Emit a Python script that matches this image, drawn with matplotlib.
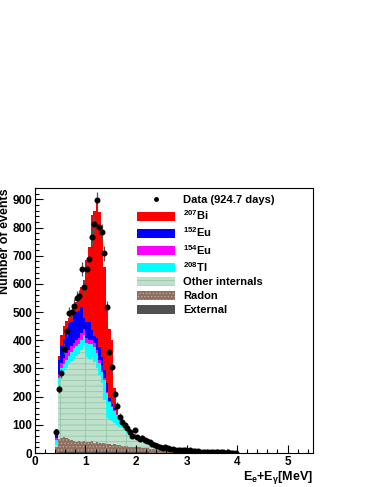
import numpy as np
import matplotlib.pyplot as plt
from matplotlib.patches import Patch
from matplotlib.lines import Line2D
from matplotlib.ticker import MultipleLocator

plt.rcParams['font.family'] = 'Liberation Sans'
plt.rcParams['font.weight'] = 'bold'
plt.rcParams['axes.labelweight'] = 'bold'
plt.rcParams['mathtext.fontset'] = 'custom'
plt.rcParams['mathtext.bf'] = 'Liberation Sans:bold'
plt.rcParams['mathtext.rm'] = 'Liberation Sans:bold'
plt.rcParams['mathtext.it'] = 'Liberation Sans:bold'
plt.rcParams['mathtext.default'] = 'bf'
plt.rcParams['hatch.linewidth'] = 0.6

# binning: 0.05 MeV bins from 0.4 to 4.0 MeV
e_lo, e_hi, bw = 0.40, 4.00, 0.05

# observed counts per bin
data = [73, 227, 283, 370, 432, 495, 500, 522, 550, 556, 652, 590, 652, 688, 767, 811,
        897, 803, 783, 708, 517, 357, 304, 210, 168, 129, 110, 100, 88, 75, 62, 80,
        58, 50, 55, 46, 42, 38, 32, 27, 24, 22, 18, 20, 16, 14, 15, 12,
        12, 10, 11, 9, 8, 9, 7, 6, 7, 5, 5, 4, 5, 3, 3, 2, 3, 2, 2, 1, 2, 1, 1, 1]

# MC components (per bin)
external = [1, 2, 2, 2, 2, 2, 2, 2, 2, 2, 2, 2, 2, 2, 2, 2,
            2, 2, 2, 2, 2, 2, 2, 2, 2, 2, 2, 2, 2, 2, 2, 2,
            2, 2, 2, 2, 2, 1.5, 1.5, 1.5, 1.5, 1, 1, 1, 1, 1, 1, 1,
            0.8, 0.8, 0.8, 0.8, 0.6, 0.6, 0.6, 0.6, 0.5, 0.5, 0.5, 0.4, 0.4, 0.4, 0.3, 0.3,
            0.3, 0.3, 0.2, 0.2, 0.2, 0.2, 0.2, 0.2]
radon = [19, 48, 53, 56, 50, 46, 43, 40, 38, 40, 38, 42, 38, 36, 40, 34,
         36, 33, 34, 32, 30, 31, 28, 29, 26, 25, 23, 24, 22, 20, 21, 18,
         19, 18, 17, 16, 15, 14, 12, 11, 10, 9, 8, 7, 6, 5, 5, 4,
         4, 3, 3, 3, 2, 2, 2, 2, 1.5, 1.5, 1, 1, 1, 1, 0.5, 0.5,
         0.5, 0.5, 0.3, 0.3, 0.3, 0.2, 0.2, 0.2]
other_int = [10, 190, 225, 232, 248, 267, 280, 293, 305, 311, 325, 339, 301, 297, 299, 288,
             263, 242, 212, 154, 92, 84, 82, 74, 70, 66, 63, 54, 48, 43, 35, 32,
             26, 24, 21, 18, 17, 15, 14, 11, 10, 9, 8, 7, 6, 6, 5, 4,
             3, 4, 3, 2, 2.5, 2.5, 2, 1, 1.5, 1, 1.5, 0.6, 0.6, 0.6, 0.4, 0.4,
             0.4, 0.4, 0.2, 0.2, 0.2, 0.2, 0.2, 0.2]
tl208 = [15, 25, 20, 25, 30, 30, 35, 37, 35, 32, 35, 37, 49, 50, 44, 51,
         53, 43, 40, 71, 89, 63, 53, 45, 37, 29, 22, 18, 16, 15, 14, 13,
         10, 9, 8, 8, 7, 7, 6, 6, 5, 5, 4, 4, 4, 3, 3, 3,
         3, 2, 2, 2, 2, 2, 1.5, 1.5, 1.5, 1, 1, 1, 1, 1, 0.8, 0.8,
         0.8, 0.8, 0.5, 0.5, 0.5, 0.5, 0.5, 0.5]
eu154 = [7, 15, 20, 23, 25, 20, 18, 20, 20, 23, 25, 20, 18, 16, 15, 14,
         12, 10, 8, 6, 5, 4, 3, 2, 2, 1, 1, 1, 1, 1, 1, 1,
         0.5, 0.5, 0.5, 0.5, 0.3, 0.3, 0.3, 0.3, 0, 0, 0, 0, 0, 0, 0, 0,
         0, 0, 0, 0, 0, 0, 0, 0, 0, 0, 0, 0, 0, 0, 0, 0,
         0, 0, 0, 0, 0, 0, 0, 0]
eu152 = [28, 50, 60, 67, 85, 95, 88, 97, 101, 97, 94, 40, 58, 65, 35, 26,
         42, 47, 45, 29, 30, 11, 7, 6, 3, 3, 2, 2, 2, 2, 2, 2,
         1, 1, 0.5, 0.5, 0.5, 0.5, 0, 0, 0, 0, 0, 0, 0, 0, 0, 0,
         0, 0, 0, 0, 0, 0, 0, 0, 0, 0, 0, 0, 0, 0, 0, 0,
         0, 0, 0, 0, 0, 0, 0, 0]
bi207 = [5, 15, 40, 45, 30, 20, 29, 26, 34, 55, 71, 133, 218, 264, 410, 445,
         492, 478, 449, 366, 270, 245, 225, 72, 35, 9, 5, 3, 2, 1, 1, 1,
         1, 1, 1, 1, 0.5, 0.5, 0.5, 0.5, 0, 0, 0, 0, 0, 0, 0, 0,
         0, 0, 0, 0, 0, 0, 0, 0, 0, 0, 0, 0, 0, 0, 0, 0,
         0, 0, 0, 0, 0, 0, 0, 0]

labels = ['External', 'Radon', 'Other internals',
          r'$^{208}$Tl', r'$^{154}$Eu', r'$^{152}$Eu', r'$^{207}$Bi']
# (facecolor, hatch, hatch colour)
styles = [('#505050', None, '#505050'),
          ('#8e6e5e', '.....', '#c2a898'),
          ('#bfe0cb', '---', '#93c8a8'),
          ('#00ffff', None, '#00ffff'),
          ('#ff00ff', None, '#ff00ff'),
          ('#0000ff', None, '#0000ff'),
          ('#ff0000', None, '#ff0000')]
comps = [external, radon, other_int, tl208, eu154, eu152, bi207]

nb = len(data)
edges = np.round(e_lo + bw * np.arange(nb + 1), 3)
centers = 0.5 * (edges[:-1] + edges[1:])

fig = plt.figure(figsize=(3.76, 4.87), dpi=100)
ax = fig.add_axes([0.093, 0.0698, 0.739, 0.544])

bottom = np.zeros(nb)
for vals, (fc, h, hc) in zip(comps, styles):
    top = bottom + np.array(vals, dtype=float)
    ax.stairs(top, edges, baseline=bottom, fill=True, facecolor=fc,
              edgecolor=hc, hatch=h, linewidth=0)
    bottom = top

# sparse vertical lines of the "other internals" grid pattern
for xv in [0.5, 1.0, 1.4, 1.8]:
    i = int(round((xv - e_lo) / bw))
    ax.vlines(xv, np.sum(comps[:2], axis=0)[i], np.sum(comps[:3], axis=0)[i],
              color='#93c8a8', lw=0.6, zorder=1.5)

d = np.array(data, dtype=float)
ax.errorbar(centers, d, yerr=np.sqrt(d), fmt='o', color='k', ms=3.3,
            ecolor='#555555', elinewidth=0.9, capsize=0, zorder=5)

ax.set_xlim(0, 5.5)
ax.set_ylim(0, 940)
ax.xaxis.set_major_locator(MultipleLocator(1))
ax.xaxis.set_minor_locator(MultipleLocator(0.2))
ax.yaxis.set_major_locator(MultipleLocator(100))
ax.yaxis.set_minor_locator(MultipleLocator(20))
ax.tick_params(which='both', direction='in', top=False, right=False,
               labelsize=8.5, pad=2, width=0.8)
ax.tick_params(which='major', length=6)
ax.tick_params(which='minor', length=3)
for lbl in ax.get_xticklabels() + ax.get_yticklabels():
    lbl.set_fontweight('bold')
for s in ax.spines.values():
    s.set_linewidth(0.8)

ax.set_ylabel('Number of events', fontsize=9, fontweight='bold', loc='top', labelpad=1)
ax.set_xlabel(r'E$_{e}$+E$_{\gamma}$[MeV]', fontsize=9, fontweight='bold',
              loc='right', labelpad=1)

handles = [Line2D([], [], marker='o', color='k', ls='none', ms=2.5)]
names = ['Data (924.7 days)']
for lab, (fc, h, hc) in reversed(list(zip(labels, styles))):
    handles.append(Patch(facecolor=fc, edgecolor=hc, hatch=h, linewidth=0))
    names.append(lab)
ax.legend(handles, names, loc='upper left', bbox_to_anchor=(0.368, 0.975),
          frameon=False, prop={'size': 8, 'weight': 'bold'},
          handlelength=3.4, handleheight=0.9,
          handletextpad=0.72, labelspacing=0.3, borderpad=0, borderaxespad=0)

fig.savefig('out.png', dpi=100)
